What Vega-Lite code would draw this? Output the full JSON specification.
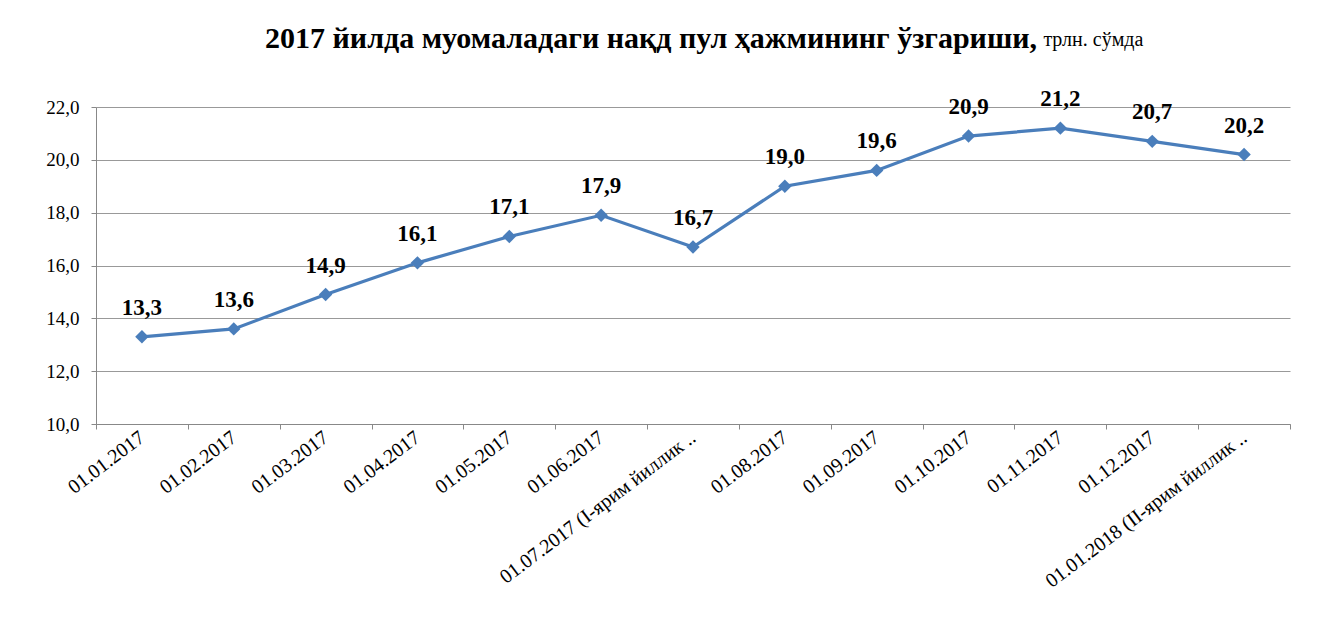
{
  "$schema": "https://vega.github.io/schema/vega-lite/v6.json",
  "autosize": "none",
  "width": 1194,
  "height": 317,
  "padding": {"left": 96, "top": 107, "right": 33, "bottom": 202},
  "background": "white",
  "config": {
    "locale": {"number": {"decimal": ",", "thousands": " ", "grouping": [3], "currency": ["", ""]}},
    "view": {"stroke": null},
    "font": "Liberation Serif"
  },
  "title": {
    "text": "2017 йилда муомаладаги нақд пул ҳажмининг ўзгариши,",
    "anchor": "end",
    "frame": "group",
    "align": "right",
    "dx": -253,
    "offset": -24,
    "font": "Liberation Serif",
    "fontSize": 30,
    "fontWeight": "bold",
    "color": "black"
  },
  "data": {
    "values": [
      {"date": "01.01.2017", "value": 13.3},
      {"date": "01.02.2017", "value": 13.6},
      {"date": "01.03.2017", "value": 14.9},
      {"date": "01.04.2017", "value": 16.1},
      {"date": "01.05.2017", "value": 17.1},
      {"date": "01.06.2017", "value": 17.9},
      {"date": "01.07.2017 (I-ярим йиллик ..", "value": 16.7},
      {"date": "01.08.2017", "value": 19.0},
      {"date": "01.09.2017", "value": 19.6},
      {"date": "01.10.2017", "value": 20.9},
      {"date": "01.11.2017", "value": 21.2},
      {"date": "01.12.2017", "value": 20.7},
      {"date": "01.01.2018 (II-ярим йиллик ..", "value": 20.2}
    ]
  },
  "layer": [
    {
      "encoding": {
        "x": {
          "field": "date",
          "type": "nominal",
          "sort": null,
          "bandPosition": 0.5,
          "scale": {"type": "band", "paddingInner": 0, "paddingOuter": 0},
          "axis": {
            "title": null,
            "labelAngle": -37,
            "labelAlign": "right",
            "labelBaseline": "middle",
            "labelPadding": 6,
            "labelFont": "Liberation Serif",
            "labelFontSize": 20,
            "labelColor": "black",
            "labelLimit": 400,
            "tickBand": "extent",
            "tickSize": 5,
            "tickColor": "#888888",
            "domainColor": "#888888",
            "grid": false
          }
        },
        "y": {
          "field": "value",
          "type": "quantitative",
          "scale": {"domain": [10, 22], "nice": false, "zero": false},
          "axis": {
            "title": null,
            "values": [10, 12, 14, 16, 18, 20, 22],
            "format": ".1f",
            "labelFont": "Liberation Serif",
            "labelFontSize": 19,
            "labelColor": "black",
            "labelPadding": 12,
            "tickSize": 5,
            "tickColor": "#888888",
            "domainColor": "#888888",
            "gridColor": "#999999",
            "gridWidth": 1
          }
        }
      },
      "layer": [
        {"mark": {"type": "line", "color": "#4a7ebb", "strokeWidth": 3.2}},
        {"mark": {"type": "point", "shape": "diamond", "filled": true, "color": "#4a7ebb", "size": 180, "opacity": 1}},
        {
          "mark": {"type": "text", "dy": -29, "font": "Liberation Serif", "fontSize": 23, "fontWeight": "bold", "color": "black"},
          "encoding": {"text": {"field": "value", "type": "quantitative", "format": ".1f"}}
        }
      ]
    },
    {
      "data": {"values": [{"unit": "трлн. сўмда"}]},
      "mark": {"type": "text", "align": "left", "baseline": "alphabetic", "dx": -17, "font": "Liberation Serif", "fontSize": 20, "color": "black", "clip": false},
      "encoding": {
        "x": {"datum": "01.11.2017", "type": "nominal", "bandPosition": 0.5},
        "y": {"datum": 24.3, "type": "quantitative"},
        "text": {"field": "unit", "type": "nominal"}
      }
    }
  ]
}
